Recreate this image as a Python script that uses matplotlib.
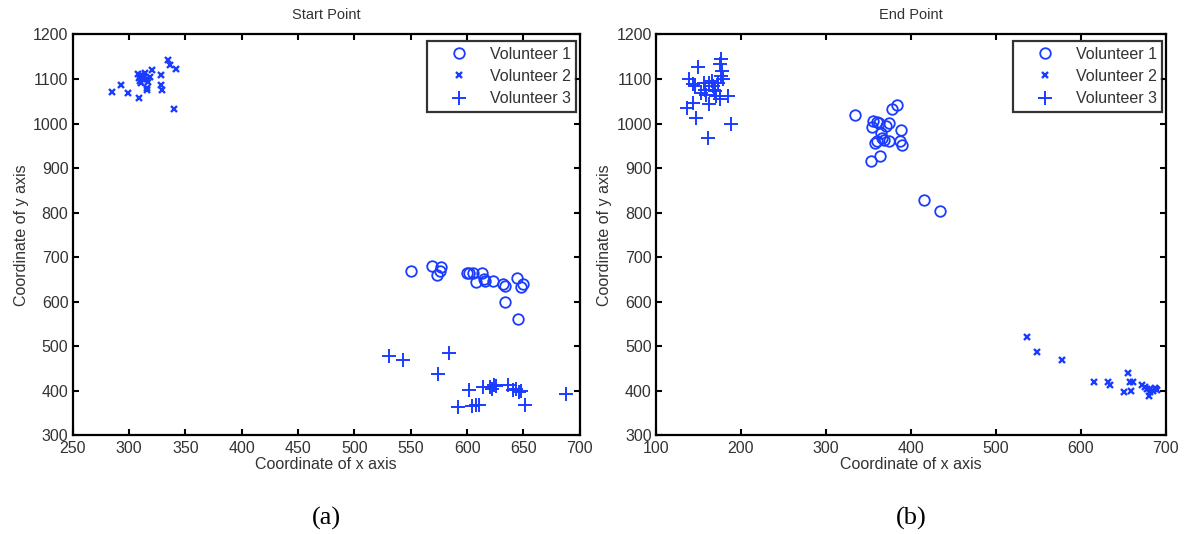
import matplotlib
matplotlib.use("Agg")
import matplotlib.pyplot as plt

# Start point coordinates per volunteer
start_v1_x = [550, 569, 577, 573, 576, 600, 602, 605, 613, 608, 615, 616, 623, 632, 634, 644, 634, 648, 650, 645]
start_v1_y = [669, 681, 679, 660, 670, 665, 665, 664, 665, 645, 651, 646, 646, 639, 636, 654, 599, 634, 640, 562]

start_v2_x = [285, 293, 299, 309, 308, 309, 310, 311, 312, 313, 314, 316, 317, 316, 316, 319, 320, 328, 328, 329, 335, 336, 342, 340, 311]
start_v2_y = [1070, 1086, 1068, 1058, 1112, 1103, 1096, 1108, 1100, 1104, 1114, 1100, 1093, 1080, 1076, 1105, 1120, 1110, 1086, 1076, 1142, 1131, 1122, 1032, 1091]

start_v3_x = [531, 543, 584, 574, 602, 592, 604, 608, 611, 614, 620, 622, 624, 626, 636, 641, 643, 646, 648, 651, 688]
start_v3_y = [478, 470, 484, 438, 401, 364, 367, 368, 368, 408, 409, 405, 414, 410, 413, 403, 405, 398, 400, 369, 392]

# End point coordinates per volunteer
end_v1_x = [334, 356, 360, 362, 354, 371, 374, 378, 384, 388, 365, 366, 360, 358, 374, 387, 390, 364, 353, 415, 434, 368]
end_v1_y = [1020, 1006, 1004, 1001, 993, 995, 1002, 1032, 1041, 985, 978, 968, 960, 956, 961, 961, 952, 928, 916, 829, 804, 963]

end_v2_x = [537, 549, 578, 616, 632, 635, 656, 658, 662, 651, 659, 672, 676, 678, 680, 682, 685, 687, 689, 690, 681]
end_v2_y = [522, 488, 469, 419, 419, 414, 440, 419, 419, 398, 400, 414, 408, 405, 388, 404, 400, 406, 404, 402, 398]

end_v3_x = [149, 139, 143, 146, 157, 158, 163, 166, 167, 169, 171, 175, 177, 175, 178, 177, 179, 185, 137, 144, 147, 162, 161, 188, 153, 159, 168, 173]
end_v3_y = [1127, 1099, 1088, 1084, 1090, 1076, 1090, 1096, 1084, 1073, 1062, 1054, 1144, 1133, 1118, 1107, 1099, 1062, 1036, 1047, 1012, 1044, 968, 1000, 1069, 1065, 1076, 1090]

series_labels = ["Volunteer 1", "Volunteer 2", "Volunteer 3"]
panel_titles = ["Start Point", "End Point"]
panel_tags = ["(a)", "(b)"]
start_xticks = list(range(250, 701, 50))
end_xticks = list(range(100, 701, 100))
yticks = list(range(300, 1201, 100))

BLUE = "#1a3cff"
TXT = "#333333"

plt.rcParams["font.family"] = ["Liberation Sans", "DejaVu Sans"]

fig = plt.figure(figsize=(11.89, 5.34), dpi=100)
ax_l = fig.add_axes([0.0611, 0.1845, 0.4265, 0.751])
ax_r = fig.add_axes([0.5517, 0.1845, 0.4287, 0.751])


def draw_panel(ax, data, xlim, xticks, title, tag):
    (x1, y1), (x2, y2), (x3, y3) = data
    ax.plot(x1, y1, linestyle="none", marker="o", markersize=7.6, mfc="none",
            mec=BLUE, mew=1.3, label=series_labels[0])
    ax.plot(x2, y2, linestyle="none", marker="x", markersize=5, color=BLUE,
            mew=1.7, label=series_labels[1])
    ax.plot(x3, y3, linestyle="none", marker="+", markersize=10, color=BLUE,
            mew=1.4, label=series_labels[2])
    ax.set_xlim(*xlim)
    ax.set_ylim(300, 1200)
    ax.set_xticks(xticks)
    ax.set_yticks(yticks)
    ax.tick_params(direction="in", length=4, width=1.5, top=True, right=True,
                   labelsize=11.5, labelcolor=TXT)
    ax.tick_params(axis="x", pad=4)
    ax.tick_params(axis="y", pad=3)
    for s in ax.spines.values():
        s.set_linewidth(1.6)
        s.set_color("black")
    ax.set_title(title, fontsize=10.5, color=TXT, pad=11)
    ax.set_xlabel("Coordinate of x axis", fontsize=11.5, color=TXT, labelpad=1)
    ax.set_ylabel("Coordinate of y axis", fontsize=11.5, color=TXT, labelpad=3)
    leg = ax.legend(loc="upper right", bbox_to_anchor=(0.993, 0.983),
                    fontsize=11.5, frameon=True, fancybox=False,
                    handlelength=3.3, handletextpad=0.25, borderpad=0.35,
                    labelspacing=0.45, borderaxespad=0, labelcolor=TXT)
    leg.get_frame().set_edgecolor("black")
    leg.get_frame().set_linewidth(1.6)
    ax.text(0.5, -0.208, tag, transform=ax.transAxes, ha="center", va="center",
            fontsize=19, family=["Liberation Serif", "DejaVu Serif"], color="black")


draw_panel(ax_l, [(start_v1_x, start_v1_y), (start_v2_x, start_v2_y), (start_v3_x, start_v3_y)],
           (250, 700), start_xticks, panel_titles[0], panel_tags[0])
draw_panel(ax_r, [(end_v1_x, end_v1_y), (end_v2_x, end_v2_y), (end_v3_x, end_v3_y)],
           (100, 700), end_xticks, panel_titles[1], panel_tags[1])

fig.savefig("out.png", dpi=100)
